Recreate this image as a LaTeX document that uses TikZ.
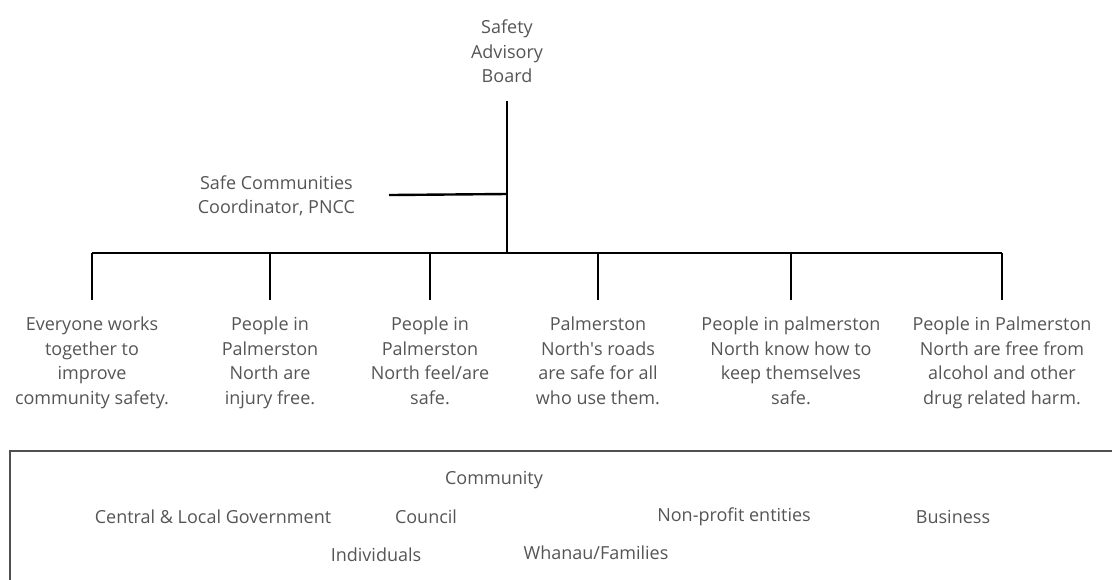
\documentclass[tikz,border=0pt]{standalone}
\usepackage{fontspec}
\setmainfont{Open Sans}
\usepackage{tikz}
\usepackage{xcolor}
\usetikzlibrary{positioning}
\definecolor{txtgray}{HTML}{555555}
\definecolor{framegray}{HTML}{505050}
\tikzset{
    label text/.style={text=txtgray, font=\fontsize{18}{24.5}\selectfont, align=center, inner sep=0pt},
    tree line/.style={line width=2.4pt, black},
    leaf/.style={label text, anchor=north, outer ysep=17pt}
}
\newcommand{\outcome}[3]{
    \coordinate (#1-t) at (#2, 253);
    \node[leaf] (#1) at (#2, 300) {#3};
    \draw[tree line] (#1-t) -- (#1);
}

\begin{document}
\begin{tikzpicture}[x=1pt, y=-1pt]
                        \useasboundingbox (0, 0) rectangle (1112, 579);
                        \node[label text, anchor=south, outer ysep=18pt] (board) at (507, 101) {Safety\\Advisory\\Board};
                        \coordinate (hub) at (507, 253);
                        \coordinate (mid) at (507, 194);
                        \node[label text, anchor=east, outer xsep=34pt] (coord) at (389, 196) {Safe Communities\\Coordinator, PNCC};
                        \draw[tree line] (board) -- (hub);
                        \draw[tree line] (mid) -- (coord);
                        \coordinate (bus-l) at (92, 253);
                        \coordinate (bus-r) at (1002, 253);
                        \draw[tree line] (bus-l) -- (bus-r);
                        \outcome{o1}{92}{Everyone works\\together to\\improve\\community safety.}
                        \outcome{o2}{270}{People in\\Palmerston\\North are\\injury free.}
                        \outcome{o3}{430}{People in\\Palmerston\\North feel/are\\safe.}
                        \outcome{o4}{598}{Palmerston\\North\textquotesingle s roads\\are safe for all\\who use them.}
                        \outcome{o5}{791}{People in palmerston\\North know how to\\keep themselves\\safe.}
                        \outcome{o6}{1002}{People in Palmerston\\North are free from\\alcohol and other\\drug related harm.}
                        % bottom panel
                        \draw[framegray, line width=2pt] (10, 580) -- (10, 451) -- (1113, 451);
                        \node[label text] (community) at (494, 480) {Community};
                        \node[label text] (govt) at (213, 517) {Central \& Local Government};
                        \node[label text] (council) at (426, 517) {Council};
                        \node[label text] (nonprofit) at (734, 517) {Non-profit entities};
                        \node[label text] (business) at (953, 517) {Business};
                        \node[label text] (individuals) at (376, 555) {Individuals};
                        \node[label text] (whanau) at (596, 553) {Whanau/Families};
                    \end{tikzpicture}
\end{document}
